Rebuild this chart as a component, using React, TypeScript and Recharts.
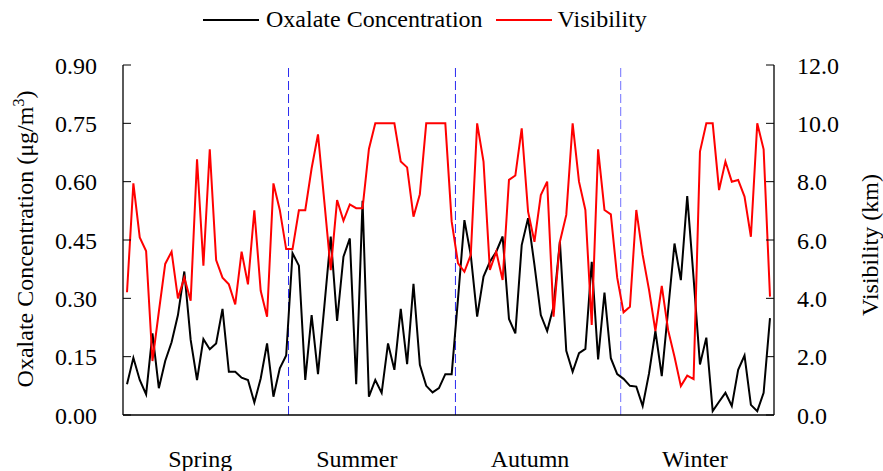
import React from 'react';
import { LineChart, Line, XAxis, YAxis, ReferenceLine } from 'recharts';

// Oxalate concentration (ug/m3), one value per sample
const oxalate = [
  0.079, 0.147, 0.090, 0.053, 0.210, 0.069, 0.139, 0.187, 0.257, 0.369,
  0.193, 0.090, 0.195, 0.169, 0.184, 0.273, 0.111, 0.111, 0.096, 0.090,
  0.032, 0.094, 0.184, 0.047, 0.120, 0.153, 0.416, 0.384, 0.090, 0.257,
  0.105, 0.280, 0.459, 0.242, 0.407, 0.454, 0.079, 0.551, 0.047, 0.090,
  0.057, 0.184, 0.116, 0.273, 0.131, 0.337, 0.129, 0.075, 0.058, 0.069,
  0.105, 0.105, 0.300, 0.501, 0.411, 0.253, 0.356, 0.394, 0.420, 0.459,
  0.247, 0.210, 0.437, 0.506, 0.386, 0.257, 0.216, 0.279, 0.446, 0.165,
  0.111, 0.159, 0.170, 0.394, 0.143, 0.315, 0.146, 0.105, 0.093, 0.075,
  0.073, 0.023, 0.107, 0.216, 0.100, 0.270, 0.441, 0.347, 0.563, 0.352,
  0.130, 0.199, 0.010, 0.034, 0.057, 0.023, 0.116, 0.153, 0.026, 0.010,
  0.057, 0.249,
];

// Visibility (km)
const visibility = [
  4.21, 7.94, 6.09, 5.62, 1.85, 3.54, 5.18, 5.60, 4.00, 4.71,
  3.92, 8.77, 5.12, 9.11, 5.31, 4.71, 4.48, 3.79, 5.60, 4.48,
  7.02, 4.26, 3.37, 7.94, 7.03, 5.69, 5.69, 7.02, 7.02, 8.46,
  9.62, 7.31, 4.97, 7.37, 6.66, 7.22, 7.09, 7.09, 9.12, 10.0,
  10.0, 10.0, 10.0, 8.69, 8.49, 6.80, 7.57, 10.0, 10.0, 10.0,
  10.0, 6.63, 5.20, 4.91, 5.49, 10.0, 8.69, 4.97, 5.60, 4.63,
  8.06, 8.21, 9.83, 6.97, 5.94, 7.54, 8.00, 3.37, 5.94, 6.86,
  10.0, 8.00, 7.03, 3.09, 9.11, 7.03, 6.88, 4.71, 3.52, 3.71,
  7.03, 5.49, 4.29, 2.88, 4.43, 2.91, 2.00, 0.99, 1.35, 1.23,
  9.03, 10.0, 10.0, 7.71, 8.69, 8.00, 8.06, 7.49, 6.11, 10.0,
  9.11, 4.06,
];

// seasons: where each label sits and where the season boundaries fall (sample index units)
const seasons = ['Spring', 'Summer', 'Autumn', 'Winter'];
const seasonLabelPos = [11.5, 36.1, 63.3, 89.2];
const seasonBounds = [25.37, 51.59, 77.55];
const boundColors = ['#2a2af0', '#2a2af0', '#7070ff'];

const leftTicks = [0, 0.15, 0.3, 0.45, 0.6, 0.75, 0.9];
const rightTicks = [0, 2, 4, 6, 8, 10, 12];

const data = oxalate.map((v, i) => ({ idx: i, oxalate: v, visibility: visibility[i] }));

const FONT = '"Liberation Serif", "Times New Roman", serif';
const xDomain = [-0.63, 101.63];

const SeasonTick = (props: any) => {
  const { x, y, index } = props;
  return (
    <text x={x} y={y + 52} textAnchor="middle" style={{ fontFamily: FONT }} fontSize={24} fill="#000">
      {seasons[index]}
    </text>
  );
};

// numeric tick for either y axis
const NumTick = (props: any) => {
  const { x, y, payload, textAnchor, digits } = props;
  return (
    <text x={x} y={y} dy="0.355em" textAnchor={textAnchor} style={{ fontFamily: FONT }} fontSize={24} fill="#000">
      {Number(payload.value).toFixed(digits)}
    </text>
  );
};

const LeftLabel = (props: any) => {
  const { viewBox } = props;
  const cx = viewBox.x + 33;
  const cy = viewBox.y + viewBox.height / 2 - 1;
  return (
    <text x={cx} y={cy} transform={`rotate(-90 ${cx} ${cy})`} textAnchor="middle" style={{ fontFamily: FONT }} fontSize={24} fill="#000">
      Oxalate Concentration (μg/m<tspan dy={-9} fontSize={16}>3</tspan><tspan dy={9}>)</tspan>
    </text>
  );
};

const RightLabel = (props: any) => {
  const { viewBox } = props;
  const cx = viewBox.x + 104;
  const cy = viewBox.y + viewBox.height / 2 + 5;
  return (
    <text x={cx} y={cy} transform={`rotate(-90 ${cx} ${cy})`} textAnchor="middle" style={{ fontFamily: FONT }} fontSize={24} fill="#000">
      Visibility (km)
    </text>
  );
};

const legendItems = [
  { name: 'Oxalate Concentration', color: '#000000' },
  { name: 'Visibility', color: '#ff0000' },
];

const ChartLegend = () => (
  <div
    style={{
      position: 'absolute',
      left: 203,
      top: 6,
      display: 'flex',
      alignItems: 'center',
      fontFamily: FONT,
      fontSize: 24,
      color: '#000',
      whiteSpace: 'nowrap',
    }}
  >
    {legendItems.map((it, i) => (
      <div key={it.name} style={{ display: 'flex', alignItems: 'center', marginLeft: i === 0 ? 0 : 13 }}>
        <div style={{ width: 56, height: 2, background: it.color, marginRight: i === 0 ? 7 : 6 }} />
        <span>{it.name}</span>
      </div>
    ))}
  </div>
);

export default function App() {
  return (
    <div style={{ position: 'absolute', left: 0, top: 0, width: 883, height: 471, background: '#fff', fontFamily: FONT }}>
      <LineChart width={883} height={471} data={data} margin={{ top: 65, right: 0, bottom: 0, left: 0 }} style={{ fontFamily: FONT }}>
        <XAxis
          dataKey="idx"
          type="number"
          domain={xDomain}
          allowDataOverflow
          ticks={seasonLabelPos}
          tick={<SeasonTick />}
          tickLine={false}
          tickSize={0}
          tickMargin={0}
          height={56}
          axisLine={{ stroke: '#000', strokeWidth: 1.3 }}
        />
        <XAxis
          xAxisId="top"
          orientation="top"
          dataKey="idx"
          type="number"
          domain={xDomain}
          allowDataOverflow
          tick={false}
          tickLine={false}
          height={0}
          axisLine={{ stroke: '#000', strokeWidth: 1.3 }}
        />
        <YAxis
          yAxisId="left"
          domain={[0, 0.9]}
          ticks={leftTicks}
          width={123}
          tickSize={-8}
          tickMargin={34}
          tick={<NumTick digits={2} />}
          tickLine={{ stroke: '#000' }}
          axisLine={{ stroke: '#000', strokeWidth: 1.3 }}
          label={<LeftLabel />}
        />
        <YAxis
          yAxisId="right"
          orientation="right"
          domain={[0, 12]}
          ticks={rightTicks}
          width={109}
          tickSize={-8}
          tickMargin={31}
          tick={<NumTick digits={1} />}
          tickLine={{ stroke: '#000' }}
          axisLine={{ stroke: '#000', strokeWidth: 1.3 }}
          label={<RightLabel />}
        />
        {seasonBounds.map((b, i) => (
          <ReferenceLine
            key={b}
            x={b}
            yAxisId="left"
            stroke={boundColors[i]}
            strokeWidth={1}
            strokeDasharray="9 4"
          />
        ))}
        <Line
          yAxisId="left"
          type="linear"
          dataKey="oxalate"
          name="Oxalate Concentration"
          stroke="#000"
          strokeWidth={2}
          dot={false}
          isAnimationActive={false}
        />
        <Line
          yAxisId="right"
          type="linear"
          dataKey="visibility"
          name="Visibility"
          stroke="#ff0000"
          strokeWidth={2}
          dot={false}
          isAnimationActive={false}
        />
      </LineChart>
      <ChartLegend />
    </div>
  );
}
